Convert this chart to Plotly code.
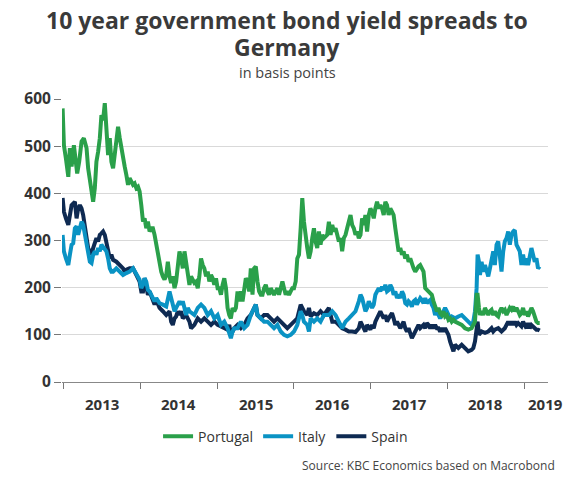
import plotly.graph_objects as go

# Time index in decimal years, values in basis points
portugal_t = [2012.983, 2013.000, 2013.026, 2013.057, 2013.078, 2013.100, 2013.130, 2013.152, 2013.173, 2013.199,
              2013.230, 2013.260, 2013.295, 2013.316, 2013.338, 2013.360, 2013.381, 2013.403, 2013.424, 2013.446,
              2013.468, 2013.489, 2013.511, 2013.533, 2013.554, 2013.576, 2013.598, 2013.619, 2013.641, 2013.663,
              2013.684, 2013.706, 2013.728, 2013.749, 2013.771, 2013.792, 2013.814, 2013.836, 2013.857, 2013.879,
              2013.901, 2013.922, 2013.944, 2013.966, 2013.987, 2014.009, 2014.031, 2014.052, 2014.074, 2014.095,
              2014.117, 2014.139, 2014.160, 2014.182, 2014.204, 2014.225, 2014.247, 2014.269, 2014.290, 2014.312,
              2014.334, 2014.355, 2014.377, 2014.398, 2014.420, 2014.442, 2014.463, 2014.485, 2014.507, 2014.528,
              2014.550, 2014.572, 2014.593, 2014.615, 2014.637, 2014.658,
              2014.701, 2014.723, 2014.745, 2014.766, 2014.788, 2014.810, 2014.831, 2014.853, 2014.875, 2014.896,
              2014.918, 2014.939, 2014.961, 2014.983, 2015.004, 2015.026, 2015.048, 2015.069, 2015.091, 2015.113,
              2015.134, 2015.156, 2015.177, 2015.199, 2015.221, 2015.242, 2015.264, 2015.286, 2015.307, 2015.329,
              2015.351, 2015.372, 2015.394, 2015.416, 2015.437, 2015.459, 2015.481, 2015.502, 2015.524, 2015.545,
              2015.567, 2015.589, 2015.610, 2015.632, 2015.654, 2015.675, 2015.697, 2015.719, 2015.740, 2015.762,
              2015.784, 2015.805, 2015.827, 2015.849, 2015.870, 2015.892, 2015.913, 2015.935, 2015.957, 2015.978,
              2016.000, 2016.022, 2016.043, 2016.065, 2016.087, 2016.108, 2016.130, 2016.152, 2016.173, 2016.195,
              2016.217, 2016.238, 2016.260, 2016.281, 2016.303, 2016.325, 2016.346, 2016.368, 2016.390,
              2016.433, 2016.455, 2016.477, 2016.499, 2016.520, 2016.542, 2016.564, 2016.585, 2016.607, 2016.628,
              2016.650, 2016.672, 2016.693, 2016.715, 2016.737, 2016.758, 2016.780, 2016.802, 2016.823, 2016.845,
              2016.867, 2016.888, 2016.910, 2016.931, 2016.953, 2016.975, 2016.996, 2017.018, 2017.040, 2017.061,
              2017.083, 2017.105, 2017.126, 2017.148, 2017.170, 2017.191, 2017.213, 2017.234, 2017.256, 2017.278,
              2017.299, 2017.321, 2017.343, 2017.364, 2017.386, 2017.408, 2017.429, 2017.451, 2017.473, 2017.494,
              2017.516, 2017.537, 2017.559, 2017.581, 2017.602, 2017.624, 2017.646, 2017.667, 2017.689, 2017.711,
              2017.732, 2017.754, 2017.776, 2017.797, 2017.819, 2017.840, 2017.862, 2017.884, 2017.905, 2017.927,
              2017.949, 2017.970, 2017.992, 2018.014, 2018.035, 2018.057, 2018.079, 2018.100,
              2018.143, 2018.187, 2018.230, 2018.273, 2018.316, 2018.338, 2018.360, 2018.381, 2018.394, 2018.412,
              2018.425, 2018.446, 2018.468, 2018.490, 2018.511, 2018.533, 2018.555, 2018.576, 2018.598, 2018.619,
              2018.641, 2018.663, 2018.684, 2018.706, 2018.728, 2018.749, 2018.771, 2018.793, 2018.814, 2018.836,
              2018.858, 2018.879, 2018.901, 2018.923, 2018.944, 2018.966, 2018.987, 2019.009, 2019.031, 2019.052,
              2019.074, 2019.096, 2019.117, 2019.139, 2019.161, 2019.182, 2019.204]
portugal_v = [580, 502, 474, 435, 496, 457, 502, 474, 442, 467,
              510, 517, 496, 453, 425, 397, 382, 411, 467, 488,
              517, 566, 555, 591, 538, 481, 517, 467, 453, 488,
              524, 541, 517, 496, 467, 457, 439, 418, 432, 425,
              418, 421, 411, 414, 404, 375, 340, 347, 326, 340,
              319, 326, 326, 312, 291, 270, 248, 234, 224, 217,
              227, 255, 224, 210, 224, 199, 213, 241, 277, 262,
              241, 277, 255, 234, 206, 224,
              210, 213, 199, 224, 262, 248, 241, 224, 234, 213,
              227, 220, 206, 220, 199, 199, 185, 206, 220, 199,
              157, 142, 135, 157, 150, 157, 192, 171, 192, 171,
              192, 220, 213, 192, 241, 185, 241, 245, 213, 192,
              185, 185, 199, 206, 192, 185, 199, 192, 185, 192,
              199, 185, 199, 213, 199, 185, 192, 185, 192, 199,
              199, 213, 262, 270, 326, 390, 340, 305, 284, 262,
              277, 305, 326, 298, 284, 319, 291, 312, 305,
              312, 340, 312, 333, 319, 326, 312, 298, 305, 277,
              305, 312, 326, 340, 354, 333, 326, 312, 319, 305,
              312, 347, 333, 354, 319, 354, 368, 361, 347, 368,
              382, 368, 375, 368, 354, 382, 375, 354, 368, 361,
              354, 326, 291, 277, 284, 270, 277, 262, 270, 255,
              262, 248, 241, 234, 241, 245, 248, 241, 234, 199,
              195, 192, 188, 185, 171, 157, 150, 157, 146, 142,
              150, 139, 142, 132, 135, 128, 132, 128,
              125, 121, 114, 111, 114, 121, 128, 185, 185, 157,
              142, 150, 142, 157, 150, 142, 150, 153, 142, 150,
              142, 139, 150, 157, 150, 153, 142, 150, 157, 153,
              160, 150, 157, 150, 142, 146, 157, 142, 150, 139,
              150, 157, 150, 135, 128, 125, 125]

italy_t = [2012.983, 2013.000, 2013.026, 2013.057, 2013.078, 2013.100, 2013.121, 2013.143, 2013.165, 2013.186,
           2013.208, 2013.230, 2013.251, 2013.273, 2013.295, 2013.316, 2013.338, 2013.360, 2013.381, 2013.403,
           2013.424, 2013.446, 2013.468, 2013.489, 2013.511, 2013.533, 2013.554, 2013.576, 2013.598, 2013.619,
           2013.641, 2013.684, 2013.728, 2013.771, 2013.814, 2013.857, 2013.901, 2013.944, 2013.987, 2014.009,
           2014.031, 2014.052, 2014.074, 2014.095, 2014.117, 2014.160, 2014.182, 2014.204, 2014.247, 2014.290,
           2014.334, 2014.377, 2014.398, 2014.420, 2014.442, 2014.463, 2014.485, 2014.507, 2014.528, 2014.550,
           2014.572, 2014.593, 2014.615, 2014.637,
           2014.701, 2014.745, 2014.788, 2014.831, 2014.875, 2014.918, 2014.961, 2015.004, 2015.048, 2015.091,
           2015.134, 2015.177, 2015.199, 2015.221, 2015.264, 2015.307, 2015.351, 2015.394, 2015.437, 2015.481,
           2015.502, 2015.524, 2015.567, 2015.610, 2015.654, 2015.697, 2015.740, 2015.784, 2015.827, 2015.870,
           2015.913, 2015.957, 2016.000, 2016.043, 2016.087, 2016.108, 2016.130, 2016.173, 2016.195, 2016.217,
           2016.260, 2016.303, 2016.346, 2016.390,
           2016.455, 2016.499, 2016.542, 2016.585, 2016.607, 2016.628, 2016.650, 2016.672, 2016.715, 2016.758,
           2016.802, 2016.845, 2016.867, 2016.888, 2016.910, 2016.931, 2016.953, 2016.975, 2016.996, 2017.018,
           2017.040, 2017.061, 2017.083, 2017.105, 2017.126, 2017.148, 2017.170, 2017.191, 2017.213, 2017.234,
           2017.256, 2017.278, 2017.299, 2017.321, 2017.343, 2017.364, 2017.386, 2017.408, 2017.429, 2017.451,
           2017.473, 2017.494, 2017.516, 2017.537, 2017.559, 2017.581, 2017.602, 2017.624, 2017.646, 2017.667,
           2017.689, 2017.711, 2017.732, 2017.754, 2017.776, 2017.797, 2017.819, 2017.840, 2017.862, 2017.884,
           2017.905, 2017.927, 2017.949, 2017.970, 2017.992, 2018.014, 2018.035, 2018.057, 2018.100,
           2018.143, 2018.187, 2018.230, 2018.273, 2018.316, 2018.338, 2018.360, 2018.381, 2018.394, 2018.412,
           2018.425, 2018.446, 2018.468, 2018.490, 2018.511, 2018.533, 2018.555, 2018.576, 2018.598, 2018.619,
           2018.641, 2018.663, 2018.684, 2018.706, 2018.728, 2018.749, 2018.771, 2018.793, 2018.814, 2018.836,
           2018.858, 2018.879, 2018.901, 2018.923, 2018.944, 2018.966, 2018.987, 2019.009, 2019.031, 2019.052,
           2019.074, 2019.096, 2019.117, 2019.139, 2019.161, 2019.182, 2019.204]
italy_v = [312, 277, 262, 248, 270, 291, 294, 326, 330, 312,
           326, 340, 333, 312, 298, 273, 255, 252, 270, 277,
           270, 284, 277, 291, 287, 280, 277, 262, 241, 234,
           234, 241, 234, 227, 231, 234, 241, 227, 217, 199,
           206, 220, 213, 195, 192, 178, 171, 178, 167, 164,
           160, 192, 178, 157, 150, 157, 164, 171, 164, 171,
           157, 142, 157, 150,
           142, 157, 164, 157, 142, 150, 135, 142, 121, 128,
           114, 93, 107, 114, 114, 128, 114, 121, 142, 157,
           164, 142, 135, 128, 128, 121, 114, 121, 107, 100,
           97, 100, 107, 121, 150, 142, 128, 121, 107, 135,
           128, 135, 128, 142,
           142, 150, 142, 128, 121, 114, 121, 128, 135, 142,
           150, 171, 185, 178, 164, 150, 157, 171, 164, 157,
           164, 185, 192, 199, 192, 202, 195, 206, 192, 195,
           206, 199, 185, 192, 178, 185, 178, 192, 185, 167,
           164, 171, 167, 160, 171, 174, 164, 171, 178, 174,
           167, 178, 167, 171, 174, 164, 157, 142, 150, 142,
           135, 142, 150, 157, 150, 142, 135, 139, 135,
           139, 142, 135, 128, 121, 128, 150, 199, 270, 255,
           227, 255, 234, 248, 234, 224, 241, 255, 277, 248,
           291, 298, 270, 234, 277, 298, 305, 319, 291, 312,
           319, 322, 291, 284, 277, 248, 270, 248, 262, 248,
           262, 284, 270, 255, 262, 241, 245]

spain_t = [2012.983, 2013.000, 2013.026, 2013.057, 2013.100, 2013.143, 2013.165, 2013.186, 2013.208, 2013.230,
           2013.251, 2013.273, 2013.295, 2013.316, 2013.338, 2013.360, 2013.381, 2013.403, 2013.424, 2013.446,
           2013.468, 2013.489, 2013.511, 2013.533, 2013.554, 2013.576, 2013.598, 2013.619, 2013.641, 2013.684,
           2013.728, 2013.771, 2013.792, 2013.814, 2013.857, 2013.901, 2013.944, 2013.987, 2014.009, 2014.031,
           2014.052, 2014.074, 2014.095, 2014.117, 2014.160, 2014.182, 2014.204, 2014.247, 2014.290, 2014.334,
           2014.377, 2014.398, 2014.420, 2014.442, 2014.463, 2014.485, 2014.507, 2014.528, 2014.550, 2014.593,
           2014.637, 2014.658,
           2014.701, 2014.745, 2014.788, 2014.831, 2014.875, 2014.918, 2014.961, 2015.004, 2015.048, 2015.091,
           2015.134, 2015.156, 2015.177, 2015.199, 2015.221, 2015.264, 2015.307, 2015.351, 2015.394, 2015.437,
           2015.481, 2015.502, 2015.524, 2015.567, 2015.610, 2015.654, 2015.697, 2015.740, 2015.784, 2015.827,
           2015.870, 2015.913, 2015.957, 2016.000, 2016.043, 2016.087, 2016.108, 2016.130, 2016.173, 2016.195,
           2016.217, 2016.260, 2016.303, 2016.346, 2016.390,
           2016.455, 2016.477, 2016.499, 2016.542, 2016.585, 2016.628, 2016.672, 2016.715, 2016.758, 2016.802,
           2016.845, 2016.867, 2016.888, 2016.910, 2016.931, 2016.953, 2016.975, 2016.996, 2017.018, 2017.040,
           2017.061, 2017.083, 2017.105, 2017.126, 2017.148, 2017.170, 2017.191, 2017.213, 2017.234, 2017.256,
           2017.278, 2017.299, 2017.321, 2017.343, 2017.364, 2017.386, 2017.408, 2017.429, 2017.451, 2017.473,
           2017.494, 2017.516, 2017.537, 2017.559, 2017.581, 2017.602, 2017.624, 2017.646, 2017.667, 2017.689,
           2017.711, 2017.732, 2017.754, 2017.776, 2017.797, 2017.819, 2017.840, 2017.862, 2017.884, 2017.905,
           2017.927, 2017.949, 2017.970, 2017.992, 2018.014, 2018.035, 2018.057, 2018.079, 2018.100,
           2018.143, 2018.187, 2018.230, 2018.273, 2018.316, 2018.338, 2018.360, 2018.381, 2018.394, 2018.412,
           2018.446, 2018.490, 2018.533, 2018.576, 2018.598, 2018.619, 2018.663, 2018.706, 2018.749, 2018.771,
           2018.793, 2018.814, 2018.836, 2018.858, 2018.879, 2018.901, 2018.923, 2018.966, 2018.987, 2019.009,
           2019.031, 2019.052, 2019.074, 2019.096, 2019.117, 2019.139, 2019.161, 2019.182, 2019.204]
spain_v = [390, 361, 347, 333, 375, 382, 347, 368, 375, 368,
           354, 326, 312, 284, 277, 270, 284, 298, 305, 298,
           312, 315, 319, 312, 298, 277, 262, 270, 259, 255,
           248, 241, 234, 238, 241, 241, 227, 213, 192, 192,
           220, 206, 185, 192, 171, 164, 174, 157, 150, 142,
           150, 128, 121, 135, 139, 150, 142, 150, 135, 142,
           128, 114,
           121, 135, 128, 135, 128, 121, 128, 121, 118, 114,
           111, 121, 100, 107, 114, 121, 114, 121, 135, 142,
           157, 164, 142, 135, 142, 142, 135, 128, 135, 128,
           121, 114, 121, 128, 135, 164, 157, 150, 142, 157,
           139, 146, 142, 150, 142,
           157, 142, 128, 128, 121, 114, 111, 107, 107, 106,
           114, 128, 121, 114, 107, 121, 114, 111, 121, 114,
           128, 135, 142, 150, 142, 135, 142, 128, 135, 142,
           146, 135, 121, 128, 121, 114, 121, 128, 114, 107,
           114, 104, 93, 100, 107, 114, 121, 114, 118, 121,
           114, 125, 121, 114, 121, 114, 121, 114, 114, 107,
           114, 107, 114, 107, 100, 86, 72, 65, 79,
           72, 79, 72, 65, 68, 72, 86, 114, 128, 100,
           107, 104, 107, 114, 107, 111, 114, 107, 114, 121,
           128, 121, 128, 121, 128, 121, 125, 118, 128, 121,
           114, 125, 114, 121, 118, 114, 111, 111, 109]

year_ticks = [2013, 2014, 2015, 2016, 2017, 2018, 2019]
year_labels = ["2013", "2014", "2015", "2016", "2017", "2018", "2019"]
y_ticks = [0, 100, 200, 300, 400, 500, 600]

GREEN = "#2AA04A"
BLUE = "#0A93C4"
NAVY = "#0E2A52"
TXT = "#333333"
FONT = "Open Sans"
LW = 4

fig = go.Figure()
fig.add_trace(go.Scatter(x=spain_t, y=spain_v, mode="lines", name="Spain",
                         line=dict(color=NAVY, width=LW)))
fig.add_trace(go.Scatter(x=italy_t, y=italy_v, mode="lines", name="Italy",
                         line=dict(color=BLUE, width=LW)))
fig.add_trace(go.Scatter(x=portugal_t, y=portugal_v, mode="lines", name="Portugal",
                         line=dict(color=GREEN, width=LW)))

annotations = []
# year labels centred in each year (last one shifted to fit the axis end)
for yr, lab in zip(year_ticks, year_labels):
    xpos = yr + 0.5 if yr < 2019 else 2019.28
    annotations.append(dict(x=xpos, xref="x", y=-0.077, yref="paper", text=lab,
                            showarrow=False, xanchor="center", yanchor="middle",
                            font=dict(family=FONT, size=15, color=TXT, weight="bold")))
annotations.append(dict(x=0.463, xref="paper", xanchor="center", y=1.279, yref="paper", yanchor="middle",
                        text="10 year government bond yield spreads to", showarrow=False,
                        font=dict(family=FONT, size=23, color="#3a3a3a", weight="bold")))
annotations.append(dict(x=0.463, xref="paper", xanchor="center", y=1.184, yref="paper", yanchor="middle",
                        text="Germany", showarrow=False,
                        font=dict(family=FONT, size=23, color="#3a3a3a", weight="bold")))
annotations.append(dict(x=0.463, xref="paper", xanchor="center", y=1.094, yref="paper", yanchor="middle",
                        text="in basis points", showarrow=False,
                        font=dict(family=FONT, size=14.5, color="#444444")))
annotations.append(dict(x=1.018, xref="paper", xanchor="right", y=-0.296, yref="paper", yanchor="middle",
                        text="Source: KBC Economics based on Macrobond", showarrow=False,
                        font=dict(family=FONT, size=12, color="#444444")))

# the page body adds an 8px offset, so the figure is 8px smaller and margins shifted
fig.update_layout(
    width=566, height=470,
    margin=dict(l=54, r=26, t=91, b=96),
    paper_bgcolor="white", plot_bgcolor="white",
    font=dict(family=FONT, color=TXT),
    showlegend=True,
    legend=dict(orientation="h", traceorder="reversed", x=0.46, xanchor="center",
                y=-0.193, yanchor="middle", font=dict(family=FONT, size=14, color=TXT),
                itemwidth=30, tracegroupgap=0, bgcolor="rgba(0,0,0,0)"),
    annotations=annotations,
)
fig.update_xaxes(range=[2012.975, 2019.312], tickvals=year_ticks, showticklabels=False,
                 ticks="outside", ticklen=6, tickcolor="#777777", showline=True,
                 linecolor="#888888", linewidth=1, showgrid=False, zeroline=False)
fig.update_yaxes(range=[0, 600], tickvals=y_ticks, ticks="outside", ticklen=7,
                 tickcolor="#777777", showline=False, showgrid=True, gridcolor="#d9d9d9",
                 gridwidth=1, zeroline=False,
                 tickfont=dict(family=FONT, size=15.5, color=TXT, weight="bold"))

fig.write_html("out.html")
